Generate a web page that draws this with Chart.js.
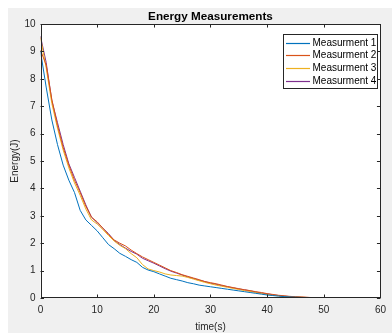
<!DOCTYPE html>
<html>
<head>
<meta charset="utf-8">
<script src="https://cdn.jsdelivr.net/npm/chart.js@4.4.1/dist/chart.umd.min.js"></script>
<style>
  html, body { margin: 0; padding: 0; background: #fff; }
  #wrap { width: 392px; height: 333px; }
</style>
</head>
<body>
<div id="wrap"><canvas id="energyChart" width="392" height="333"></canvas></div>
<script>
Chart.defaults.font.family = '"Liberation Sans", Arial, Helvetica, sans-serif';
Chart.defaults.color = '#262626';

const TITLE = 'Energy Measurements';
const SERIES_LABELS = ['Measurment 1', 'Measurment 2', 'Measurment 3', 'Measurment 4'];
const SERIES_COLORS = ['#0072BD', '#D95319', '#EDB120', '#7E2F8E'];
const X_TICKS = [0, 10, 20, 30, 40, 50, 60];
const Y_TICKS = [0, 1, 2, 3, 4, 5, 6, 7, 8, 9, 10];

const TIMES = [0, 1, 2, 3, 4, 5, 6, 7, 8, 9, 10, 11, 12, 13, 14, 15, 16, 17, 18, 19,
  20, 21, 22, 23, 24, 25, 26, 27, 28, 29, 30, 31, 32, 33, 34, 35, 36, 37, 38, 39,
  40, 41, 42, 43, 44, 45, 46, 47, 48, 49, 50, 51, 52];

const M1 = [9.0, 7.7, 6.5, 5.6, 4.85, 4.3, 3.85, 3.2, 2.85, 2.65, 2.45, 2.2, 1.95, 1.8, 1.63, 1.52, 1.4, 1.3, 1.12, 1.02,
  0.96, 0.88, 0.8, 0.72, 0.67, 0.62, 0.56, 0.52, 0.47, 0.44, 0.41, 0.38, 0.35, 0.32, 0.29, 0.26, 0.23, 0.2, 0.17, 0.14,
  0.11, 0.09, 0.07, 0.05, 0.04, 0.03, 0.02, 0.015, 0.01, 0.005, 0, 0, 0];
const M2 = [9.05, 8.5, 7.25, 6.3, 5.5, 4.85, 4.3, 3.85, 3.35, 2.95, 2.78, 2.55, 2.32, 2.12, 2.0, 1.9, 1.75, 1.62, 1.5, 1.4,
  1.3, 1.2, 1.1, 1.0, 0.93, 0.85, 0.79, 0.73, 0.67, 0.6, 0.56, 0.52, 0.47, 0.42, 0.38, 0.34, 0.3, 0.27, 0.23, 0.2,
  0.16, 0.13, 0.1, 0.08, 0.06, 0.045, 0.035, 0.025, 0.015, 0.01, 0.005, 0, 0];
const M3 = [9.5, 8.4, 7.1, 6.2, 5.4, 4.75, 4.2, 3.75, 3.25, 2.85, 2.7, 2.5, 2.28, 2.08, 1.92, 1.8, 1.62, 1.47, 1.22, 1.06,
  1.0, 0.95, 0.88, 0.84, 0.82, 0.8, 0.75, 0.69, 0.63, 0.57, 0.52, 0.47, 0.43, 0.39, 0.35, 0.31, 0.27, 0.24, 0.2, 0.16,
  0.13, 0.1, 0.08, 0.06, 0.05, 0.04, 0.03, 0.02, 0.015, 0.01, 0.005, 0, 0];
const M4 = [9.55, 8.6, 7.2, 6.4, 5.6, 4.9, 4.4, 3.9, 3.4, 2.95, 2.75, 2.55, 2.35, 2.1, 1.95, 1.82, 1.7, 1.6, 1.45, 1.36,
  1.27, 1.17, 1.07, 0.98, 0.91, 0.84, 0.77, 0.71, 0.65, 0.6, 0.54, 0.5, 0.45, 0.41, 0.37, 0.33, 0.3, 0.26, 0.22, 0.18,
  0.15, 0.12, 0.09, 0.07, 0.05, 0.04, 0.03, 0.02, 0.015, 0.01, 0.005, 0, 0];

const SERIES = [M1, M2, M3, M4];
const TICK_LEN = 3.5;

function toPoints(vals) {
    return vals.map((v, i) => ({ x: TIMES[i], y: v }));
}

// gray figure, white axes, box with inward ticks, legend inside the axes
const matlabLook = {
    id: 'matlabLook',
    beforeDraw(chart) {
        const { ctx, chartArea: a } = chart;
        ctx.save();
        ctx.fillStyle = '#ffffff';
        ctx.fillRect(0, 0, chart.width, chart.height);
        ctx.fillStyle = '#f0f0f0';
        ctx.fillRect(8, 8, chart.width - 8, chart.height - 8);
        ctx.fillStyle = '#ffffff';
        ctx.fillRect(a.left, a.top, a.right - a.left, a.bottom - a.top);
        ctx.restore();
    },
    afterDraw(chart) {
        const { ctx, chartArea: a, scales } = chart;
        ctx.save();
        ctx.strokeStyle = '#262626';
        ctx.lineWidth = 1;
        ctx.strokeRect(Math.round(a.left) + 0.5, Math.round(a.top) + 0.5,
            Math.round(a.right - a.left) - 1, Math.round(a.bottom - a.top) - 1);

        ctx.beginPath();
        X_TICKS.forEach(t => {
            const px = Math.round(scales.x.getPixelForValue(t)) + 0.5;
            ctx.moveTo(px, a.bottom); ctx.lineTo(px, a.bottom - TICK_LEN);
            ctx.moveTo(px, a.top); ctx.lineTo(px, a.top + TICK_LEN);
        });
        Y_TICKS.forEach(t => {
            const py = Math.round(scales.y.getPixelForValue(t)) + 0.5;
            ctx.moveTo(a.left, py); ctx.lineTo(a.left + TICK_LEN, py);
            ctx.moveTo(a.right, py); ctx.lineTo(a.right - TICK_LEN, py);
        });
        ctx.stroke();

        // legend
        const bx = 283.5, by = 34.5, bw = 94, bh = 54;
        ctx.fillStyle = '#ffffff';
        ctx.fillRect(bx, by, bw, bh);
        ctx.strokeStyle = '#262626';
        ctx.strokeRect(bx, by, bw, bh);
        ctx.font = '10px "Liberation Sans", Arial, sans-serif';
        ctx.textBaseline = 'middle';
        ctx.textAlign = 'left';
        SERIES_LABELS.forEach((label, i) => {
            const y = Math.round(42.5 + i * 12.7) + 0.5;
            ctx.beginPath();
            ctx.strokeStyle = SERIES_COLORS[i];
            ctx.lineWidth = 1.2;
            ctx.moveTo(286, y);
            ctx.lineTo(310, y);
            ctx.stroke();
            ctx.fillStyle = '#000000';
            ctx.fillText(label, 312.5, y);
        });
        ctx.restore();
    }
};

const ctx = document.getElementById('energyChart').getContext('2d');
new Chart(ctx, {
    type: 'line',
    data: {
        datasets: SERIES.map((vals, i) => ({
            label: SERIES_LABELS[i],
            data: toPoints(vals),
            borderColor: SERIES_COLORS[i],
            backgroundColor: SERIES_COLORS[i],
            borderWidth: 1,
            pointRadius: 0,
            tension: 0,
            fill: false
        }))
    },
    options: {
        responsive: false,
        animation: false,
        devicePixelRatio: 1,
        layout: { padding: { left: 0, right: 4, top: 0, bottom: 0 } },
        plugins: {
            legend: { display: false },
            tooltip: { enabled: false },
            title: {
                display: true,
                text: TITLE,
                fullSize: false,
                color: '#000000',
                font: { size: 11.7, weight: 'bold' },
                padding: { top: 9.5, bottom: 0.5 }
            }
        },
        scales: {
            x: {
                type: 'linear',
                min: 0,
                max: 60,
                afterBuildTicks: (s) => { s.ticks = X_TICKS.map(v => ({ value: v })); },
                afterFit: (s) => { s.height = 35; },
                grid: { display: false, drawTicks: false },
                border: { display: false },
                ticks: { padding: 6, font: { size: 10 }, color: '#262626', maxRotation: 0 },
                title: { display: true, text: 'time(s)', color: '#262626', font: { size: 10 }, padding: { top: 3, bottom: 0 } }
            },
            y: {
                type: 'linear',
                min: 0,
                max: 10,
                afterBuildTicks: (s) => { s.ticks = Y_TICKS.map(v => ({ value: v })); },
                afterFit: (s) => { s.width = 40.5; },
                grid: { display: false, drawTicks: false },
                border: { display: false },
                ticks: { padding: 5, font: { size: 10 }, color: '#262626' },
                title: { display: true, text: 'Energy(J)', color: '#262626', font: { size: 10 }, padding: { top: 9, bottom: 0 } }
            }
        }
    },
    plugins: [matlabLook]
});
</script>
</body>
</html>
